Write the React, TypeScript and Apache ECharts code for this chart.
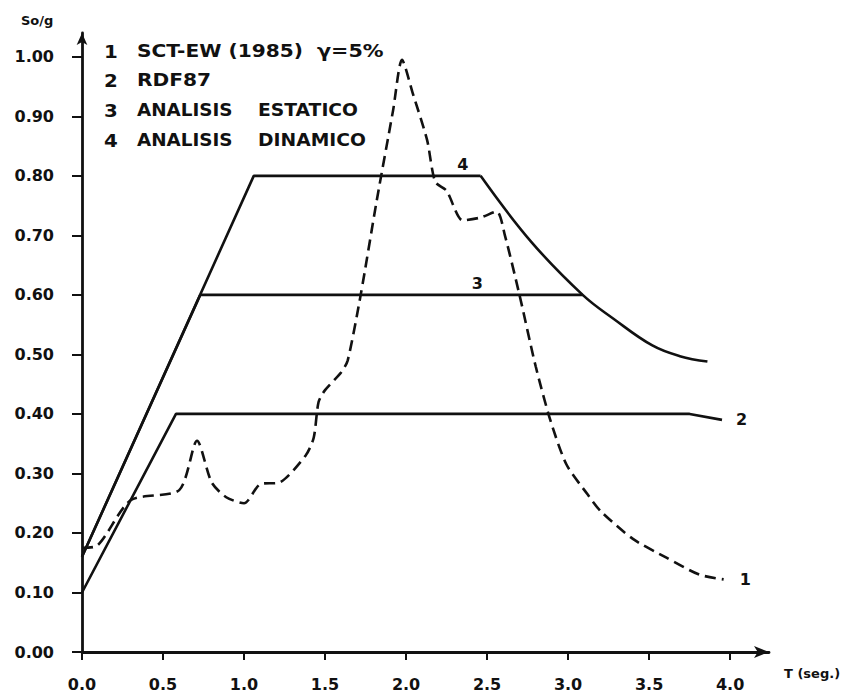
import React, { useEffect, useRef } from "react";
import * as echarts from "echarts";

// Axis ticks
const xTicks = [0, 0.5, 1.0, 1.5, 2.0, 2.5, 3.0, 3.5, 4.0];
const yTicks = [0, 0.1, 0.2, 0.3, 0.4, 0.5, 0.6, 0.7, 0.8, 0.9, 1.0];

// Legend entries (number, first part, second part)
const legendNums = ["1", "2", "3", "4"];
const legendFirst = ["SCT-EW (1985)", "RDF87", "ANALISIS", "ANALISIS"];
const legendSecond = ["\u03b3=5%", "", "ESTATICO", "DINAMICO"];

// 1: SCT-EW (1985) spectrum (dashed)
const sctT = [0, 0.09, 0.3, 0.6, 0.71, 0.8, 0.89, 1.0, 1.1, 1.22, 1.38, 1.43, 1.46, 1.5, 1.6, 1.64, 1.72, 1.82, 1.92, 1.975, 2.04, 2.13, 2.18, 2.25, 2.35, 2.46, 2.56, 2.61, 2.7, 2.8, 2.89, 2.99, 3.12, 3.2, 3.4, 3.61, 3.81, 3.96];
const sctSa = [0.175, 0.178, 0.255, 0.272, 0.355, 0.285, 0.26, 0.25, 0.282, 0.285, 0.33, 0.36, 0.42, 0.44, 0.47, 0.49, 0.6, 0.76, 0.91, 0.995, 0.94, 0.86, 0.79, 0.775, 0.725, 0.73, 0.74, 0.7, 0.6, 0.48, 0.39, 0.315, 0.265, 0.237, 0.19, 0.158, 0.13, 0.122];

// 2: RDF87
const rdfT = [0, 0.58, 3.75, 3.95];
const rdfSa = [0.1, 0.4, 0.4, 0.39];

// 3: Analisis estatico
const estT = [0, 0.73, 3.09];
const estSa = [0.16, 0.6, 0.6];

// 4: Analisis dinamico (ramp + plateau, then decay)
const dinT = [0, 1.06, 2.46];
const dinSa = [0.16, 0.8, 0.8];
const dinDecayT = [2.46, 2.77, 3.09, 3.28, 3.52, 3.69, 3.86];
const dinDecaySa = [0.8, 0.69, 0.6, 0.56, 0.515, 0.497, 0.488];

const zip = (a: number[], b: number[]) => a.map((v, i) => [v, b[i]]);

const INK = "#111";
const FONT = '"DejaVu Sans", sans-serif';

export default function App() {
  const ref = useRef<HTMLDivElement>(null);
  useEffect(() => {
    if (!ref.current) return;
    const chart = echarts.init(ref.current, null, { renderer: "svg" });
    const solid = { color: INK, width: 2.6, type: "solid" as const };
    const labelStyle = { color: INK, fontFamily: FONT, fontWeight: "bold" as const, fontSize: 16 };
    const lineBase = {
      type: "line" as const,
      showSymbol: false,
      symbol: "none",
      silent: true,
      lineStyle: solid,
      itemStyle: { color: INK },
    };
    const mark = (x: number, y: number, text: string) => ({
      symbol: "circle",
      symbolSize: 0,
      silent: true,
      itemStyle: { color: "transparent" },
      label: { show: true, position: "top", distance: 3, formatter: text, ...labelStyle },
      data: [{ coord: [x, y] }],
    });

    const legendFont = `bold 18px ${FONT}`;
    const graphic: any[] = [
      { type: "text", x: 21, y: 20, style: { text: "So/g", font: `bold 13px ${FONT}`, fill: INK, verticalAlign: "middle" } },
      { type: "text", x: 784, y: 673, style: { text: "T (seg.)", font: `bold 13px ${FONT}`, fill: INK, verticalAlign: "middle" } },
    ];
    const legendY = [51, 80, 110, 140];
    legendNums.forEach((n, i) => {
      graphic.push({ type: "text", x: 104, y: legendY[i], scaleX: 1.1, style: { text: n, font: legendFont, fill: INK, verticalAlign: "middle" } });
      graphic.push({ type: "text", x: 137, y: legendY[i], scaleX: i === 0 || i === 1 ? 1.12 : 1.02, style: { text: legendFirst[i], font: legendFont, fill: INK, verticalAlign: "middle" } });
      if (legendSecond[i]) {
        graphic.push({ type: "text", x: i === 0 ? 317 : 258, y: legendY[i], scaleX: i === 0 ? 1.15 : 1.04, style: { text: legendSecond[i], font: legendFont, fill: INK, verticalAlign: "middle" } });
      }
    });

    chart.setOption({
      animation: false,
      backgroundColor: "#fff",
      grid: { left: 82, right: 83, top: 33, bottom: 46, containLabel: false },
      xAxis: {
        type: "value",
        min: 0,
        max: 4.24,
        axisLine: { show: true, onZero: false, symbol: ["none", "arrow"], symbolSize: [9, 15], lineStyle: { color: INK, width: 2.8 } },
        axisTick: { show: true, customValues: xTicks, length: 8, lineStyle: { color: INK, width: 2 } },
        axisLabel: { show: true, customValues: xTicks, formatter: (v: number) => v.toFixed(1), margin: 24, ...labelStyle },
        splitLine: { show: false },
      },
      yAxis: {
        type: "value",
        min: 0,
        max: 1.04,
        axisLine: { show: true, onZero: false, symbol: ["none", "arrow"], symbolSize: [8, 12], lineStyle: { color: INK, width: 2.8 } },
        axisTick: { show: true, customValues: yTicks, length: 10, lineStyle: { color: INK, width: 2 } },
        axisLabel: { show: true, customValues: yTicks, formatter: (v: number) => v.toFixed(2), margin: 28, ...labelStyle },
        splitLine: { show: false },
      },
      series: [
        {
          ...lineBase,
          name: "SCT-EW (1985)",
          data: zip(sctT, sctSa),
          smooth: 0.25,
          lineStyle: { color: INK, width: 2.6, type: [11, 6] },
          endLabel: { show: true, formatter: "1", distance: 16, ...labelStyle },
        },
        {
          ...lineBase,
          name: "RDF87",
          data: zip(rdfT, rdfSa),
          endLabel: { show: true, formatter: "2", distance: 14, ...labelStyle },
        },
        {
          ...lineBase,
          name: "ANALISIS ESTATICO",
          data: zip(estT, estSa),
          markPoint: mark(2.44, 0.6, "3"),
        },
        {
          ...lineBase,
          name: "ANALISIS DINAMICO",
          data: zip(dinT, dinSa),
          markPoint: mark(2.35, 0.8, "4"),
        },
        {
          ...lineBase,
          name: "ANALISIS DINAMICO (decay)",
          data: zip(dinDecayT, dinDecaySa),
          smooth: 0.4,
        },
      ],
      graphic,
    });
    return () => chart.dispose();
  }, []);
  return <div ref={ref} style={{ position: "fixed", left: 0, top: 0, width: 852, height: 698, background: "#fff" }} />;
}
